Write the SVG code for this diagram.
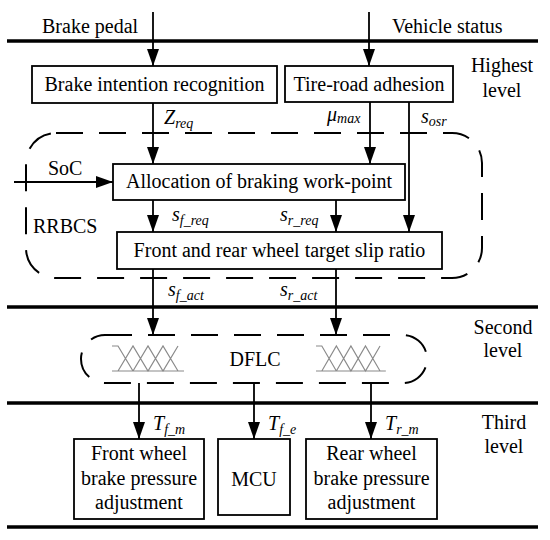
<svg xmlns="http://www.w3.org/2000/svg" width="550" height="540" viewBox="0 0 550 540" font-family="'Liberation Serif','Times New Roman','DejaVu Serif',serif">
<defs>
<style>
text{font-family:'Liberation Serif','Times New Roman','DejaVu Serif',serif;font-size:20px;fill:#000}
.m{text-anchor:middle}
.i{font-style:italic}
.sub{font-size:14px;font-style:italic}
.box{fill:#fff;stroke:#000;stroke-width:1.8}
.lvl{stroke:#000;stroke-width:3.5;fill:none}
.arr{stroke:#000;stroke-width:1.8;fill:none;marker-end:url(#ah)}
.dash{fill:none;stroke:#000;stroke-width:2;stroke-dasharray:27 16}
.fz{fill:none;stroke:#8a8a8a;stroke-width:1.2}
</style>
<marker id="ah" markerUnits="userSpaceOnUse" viewBox="0 0 17 12" refX="17" refY="6" markerWidth="17" markerHeight="12" orient="auto">
<path d="M0,0 L17,6 L0,12 z" fill="#000"/>
</marker>
<g id="fuzzy">
<path class="fz" d="M0,0 H72 M0,25 H6 L21,0 M6,0 L21,25 L36,0 L51,25 L66,0 H72 M21,25 L36,0 M21,0 L36,25 L51,0 L66,25"/>
</g>
</defs>

<g id="levels">
<line class="lvl" x1="7" y1="41" x2="538" y2="41"/>
<line class="lvl" x1="7" y1="307" x2="538" y2="307"/>
<line class="lvl" x1="7" y1="403" x2="538" y2="403"/>
<line class="lvl" x1="7" y1="527" x2="538" y2="527"/>
<text x="42" y="33">Brake pedal</text>
<text x="392" y="33">Vehicle status</text>
<text class="m" x="502" y="72">Highest</text>
<text class="m" x="502" y="97">level</text>
<text class="m" x="503" y="334">Second</text>
<text class="m" x="503" y="357">level</text>
<text class="m" x="504" y="429">Third</text>
<text class="m" x="504" y="453">level</text>
</g>

<g id="rrbcs">
<rect class="dash" x="26" y="133" width="456" height="145" rx="30" ry="30"/>
<text x="33" y="233">RRBCS</text>
</g>

<g id="dflc">
<rect class="dash" x="81" y="335" width="346" height="48" rx="24" ry="24"/>
<use href="#fuzzy" transform="translate(112,371) scale(1,-1)"/>
<use href="#fuzzy" transform="translate(316,371) scale(0.97,-1)"/>
<text class="m" x="255" y="366">DFLC</text>
</g>

<g id="connectors">
<line class="arr" x1="153" y1="12" x2="153" y2="66"/>
<line class="arr" x1="369" y1="12" x2="369" y2="66"/>
<line class="arr" x1="153" y1="103" x2="153" y2="164"/>
<line class="arr" x1="370" y1="102" x2="370" y2="164"/>
<line class="arr" x1="409" y1="102" x2="409" y2="232"/>
<line class="arr" x1="14" y1="182" x2="113" y2="182"/>
<line class="arr" x1="153" y1="200" x2="153" y2="232"/>
<line class="arr" x1="336" y1="200" x2="336" y2="232"/>
<line class="arr" x1="153" y1="269" x2="153" y2="335"/>
<line class="arr" x1="336" y1="269" x2="336" y2="335"/>
<line class="arr" x1="139" y1="383" x2="139" y2="439"/>
<line class="arr" x1="254" y1="383" x2="254" y2="439"/>
<line class="arr" x1="371" y1="383" x2="371" y2="439"/>
<text x="48" y="175">SoC</text>
<text class="i" x="164" y="124">Z<tspan class="sub" dy="4">req</tspan></text>
<text class="i" x="327" y="121">μ<tspan class="sub" dy="2">max</tspan></text>
<text class="i" x="421" y="123">s<tspan class="sub" dy="3">osr</tspan></text>
<text class="i" x="172" y="221">s<tspan class="sub" dy="4">f_req</tspan></text>
<text class="i" x="280" y="221">s<tspan class="sub" dy="4">r_req</tspan></text>
<text class="i" x="168" y="296">s<tspan class="sub" dy="4">f_act</tspan></text>
<text class="i" x="280" y="296">s<tspan class="sub" dy="4">r_act</tspan></text>
<text class="i" x="153" y="430">T<tspan class="sub" dy="4">f_m</tspan></text>
<text class="i" x="268" y="430">T<tspan class="sub" dy="4">f_e</tspan></text>
<text class="i" x="385" y="430">T<tspan class="sub" dy="4">r_m</tspan></text>
</g>

<g id="brake-intention">
<rect class="box" x="32" y="66" width="245" height="37"/>
<text class="m" x="154.5" y="91">Brake intention recognition</text>
</g>
<g id="tire-road">
<rect class="box" x="285" y="66" width="168" height="36"/>
<text class="m" x="369" y="91">Tire-road adhesion</text>
</g>
<g id="allocation">
<rect class="box" x="113" y="164" width="292" height="36"/>
<text class="m" x="259" y="188">Allocation of braking work-point</text>
</g>
<g id="target-slip">
<rect class="box" x="117" y="232" width="325" height="37"/>
<text class="m" x="279.5" y="257">Front and rear wheel target slip ratio</text>
</g>
<g id="front-wheel">
<rect class="box" x="74" y="439" width="130" height="80"/>
<text class="m" x="139" y="460">Front wheel</text>
<text class="m" x="139" y="485">brake pressure</text>
<text class="m" x="139" y="509">adjustment</text>
</g>
<g id="mcu">
<rect class="box" x="218" y="439" width="72" height="76"/>
<text class="m" x="254" y="486">MCU</text>
</g>
<g id="rear-wheel">
<rect class="box" x="306" y="439" width="131" height="80"/>
<text class="m" x="371.5" y="460">Rear wheel</text>
<text class="m" x="371.5" y="485">brake pressure</text>
<text class="m" x="371.5" y="509">adjustment</text>
</g>
</svg>
